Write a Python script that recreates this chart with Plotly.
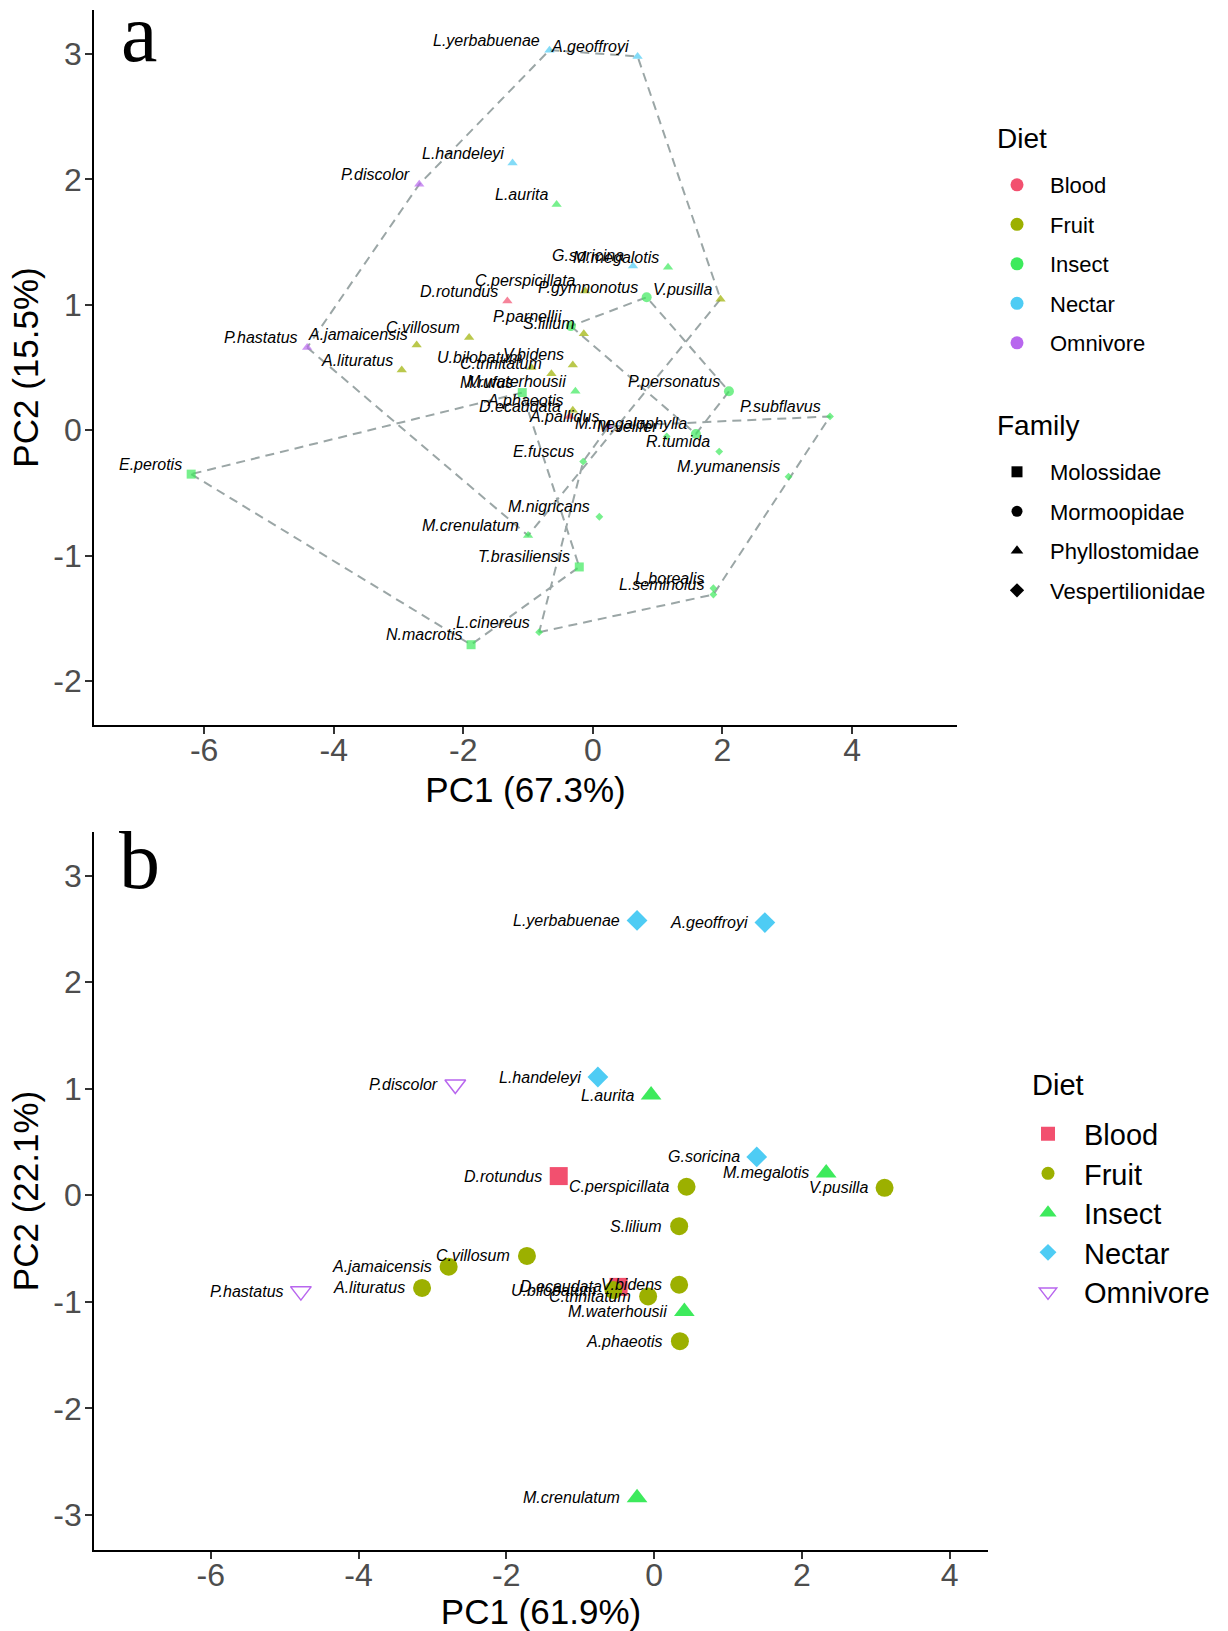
import plotly.graph_objects as go

# ---------------- Panel a data ----------------
a_species = ["L.yerbabuenae", "A.geoffroyi", "L.handeleyi", "P.discolor", "L.aurita",
             "G.soricina", "M.megalotis", "D.rotundus", "C.perspicillata", "P.gymnonotus",
             "V.pusilla", "P.parnellii", "S.lilium", "C.villosum", "A.jamaicensis",
             "A.lituratus", "P.hastatus", "U.bilobatum", "C.trinitatum", "V.bidens",
             "M.rufus", "M.waterhousii", "A.phaeotis", "D.ecaudata", "A.pallidus",
             "M.megalophylla", "M.velifer", "P.personatus", "P.subflavus", "R.tumida",
             "E.fuscus", "M.yumanensis", "E.perotis", "M.nigricans", "M.crenulatum",
             "T.brasiliensis", "L.borealis", "L.seminolus", "L.cinereus", "N.macrotis"]
a_family = ["Phyllostomidae", "Phyllostomidae", "Phyllostomidae", "Phyllostomidae", "Phyllostomidae",
            "Phyllostomidae", "Phyllostomidae", "Phyllostomidae", "Phyllostomidae", "Mormoopidae",
            "Phyllostomidae", "Mormoopidae", "Phyllostomidae", "Phyllostomidae", "Phyllostomidae",
            "Phyllostomidae", "Phyllostomidae", "Phyllostomidae", "Phyllostomidae", "Phyllostomidae",
            "Molossidae", "Phyllostomidae", "Phyllostomidae", "Phyllostomidae", "Vespertilionidae",
            "Mormoopidae", "Vespertilionidae", "Mormoopidae", "Vespertilionidae", "Vespertilionidae",
            "Vespertilionidae", "Vespertilionidae", "Molossidae", "Vespertilionidae", "Phyllostomidae",
            "Molossidae", "Vespertilionidae", "Vespertilionidae", "Vespertilionidae", "Molossidae"]
a_diet = ["Nectar", "Nectar", "Nectar", "Omnivore", "Insect",
          "Nectar", "Insect", "Blood", "Fruit", "Insect",
          "Fruit", "Insect", "Fruit", "Fruit", "Fruit",
          "Fruit", "Omnivore", "Fruit", "Fruit", "Fruit",
          "Insect", "Insect", "Fruit", "Blood", "Omnivore",
          "Insect", "Insect", "Insect", "Insect", "Insect",
          "Insect", "Insect", "Insect", "Insect", "Insect",
          "Insect", "Insect", "Insect", "Insect", "Insect"]
a_pc1 = [-0.67, 0.69, -1.24, -2.68, -0.56,
         0.62, 1.16, -1.32, -0.12, 0.83,
         1.97, -0.34, -0.14, -1.91, -2.72,
         -2.95, -4.41, -0.95, -0.64, -0.31,
         -1.09, -0.27, -0.31, -0.36, 0.24,
         1.59, 1.14, 2.10, 3.66, 1.95,
         -0.15, 3.02, -6.20, 0.10, -1.00,
         -0.21, 1.86, 1.86, -0.83, -1.88]
a_pc2 = [3.03, 2.98, 2.13, 1.96, 1.80,
         1.31, 1.30, 1.03, 1.11, 1.06,
         1.045, 0.83, 0.77, 0.74, 0.68,
         0.48, 0.66, 0.50, 0.45, 0.52,
         0.30, 0.31, 0.16, 0.11, 0.03,
         -0.03, -0.05, 0.31, 0.11, -0.17,
         -0.25, -0.37, -0.35, -0.69, -0.84,
         -1.09, -1.26, -1.31, -1.61, -1.71]

# ---------------- Panel b data ----------------
b_species = ["L.yerbabuenae", "A.geoffroyi", "P.discolor", "L.handeleyi", "L.aurita",
             "G.soricina", "M.megalotis", "V.pusilla", "D.rotundus", "C.perspicillata",
             "S.lilium", "C.villosum", "A.jamaicensis", "A.lituratus", "P.hastatus",
             "D.ecaudata", "U.bilobatum", "V.bidens", "C.trinitatum", "M.waterhousii",
             "A.phaeotis", "M.crenulatum"]
b_diet = ["Nectar", "Nectar", "Omnivore", "Nectar", "Insect",
          "Nectar", "Insect", "Fruit", "Blood", "Fruit",
          "Fruit", "Fruit", "Fruit", "Fruit", "Omnivore",
          "Blood", "Fruit", "Fruit", "Fruit", "Insect",
          "Fruit", "Insect"]
b_pc1 = [-0.23, 1.50, -2.69, -0.76, -0.04,
         1.39, 2.33, 3.12, -1.29, 0.44,
         0.34, -1.72, -2.78, -3.14, -4.78,
         -0.48, -0.55, 0.34, -0.08, 0.41,
         0.35, -0.23]
b_pc2 = [2.58, 2.56, 1.04, 1.11, 0.94,
         0.36, 0.21, 0.07, 0.18, 0.08,
         -0.29, -0.57, -0.67, -0.87, -0.90,
         -0.86, -0.89, -0.84, -0.95, -1.09,
         -1.37, -2.84]

# ---------------- categories / ticks ----------------
diet_levels = ["Blood", "Fruit", "Insect", "Nectar", "Omnivore"]
family_levels = ["Molossidae", "Mormoopidae", "Phyllostomidae", "Vespertilionidae"]
a_xticks = [-6, -4, -2, 0, 2, 4]
a_xticktext = ["-6", "-4", "-2", "0", "2", "4"]
a_yticks = [-2, -1, 0, 1, 2, 3]
a_yticktext = ["-2", "-1", "0", "1", "2", "3"]
b_xticks = [-6, -4, -2, 0, 2, 4]
b_xticktext = ["-6", "-4", "-2", "0", "2", "4"]
b_yticks = [-3, -2, -1, 0, 1, 2, 3]
b_yticktext = ["-3", "-2", "-1", "0", "1", "2", "3"]

# ---------------- styles ----------------
W, H = 1228, 1631
diet_colors = {"Blood": "#F2506F", "Fruit": "#9CB000", "Insect": "#3DEA5C",
               "Nectar": "#4ECCF4", "Omnivore": "#B866EE"}
fam_symbol = {"Molossidae": "square", "Mormoopidae": "circle",
              "Phyllostomidae": "triangle-up", "Vespertilionidae": "diamond"}
fam_size = {"Molossidae": 9, "Mormoopidae": 10, "Phyllostomidae": 9, "Vespertilionidae": 6}
b_symbol = {"Blood": "square", "Fruit": "circle", "Insect": "triangle-up",
            "Nectar": "diamond", "Omnivore": "triangle-down-open"}
b_size = {"Blood": 18, "Fruit": 18, "Insect": 18, "Nectar": 16, "Omnivore": 18}
b_leg_size = {"Blood": 14, "Fruit": 13, "Insect": 15, "Nectar": 13, "Omnivore": 15}
HULL = "#9BA6A6"
FONT = "Liberation Sans"
TICKCOL = "#4D4D4D"


def convex_hull(points):
    pts = sorted(set(points))
    if len(pts) <= 2:
        return pts

    def cross(o, a, b):
        return (a[0] - o[0]) * (b[1] - o[1]) - (a[1] - o[1]) * (b[0] - o[0])
    lower, upper = [], []
    for p in pts:
        while len(lower) >= 2 and cross(lower[-2], lower[-1], p) <= 0:
            lower.pop()
        lower.append(p)
    for p in reversed(pts):
        while len(upper) >= 2 and cross(upper[-2], upper[-1], p) <= 0:
            upper.pop()
        upper.append(p)
    return lower[:-1] + upper[:-1]


fig = go.Figure()

# hulls (panel a)
for fam in family_levels:
    pts = [(x, y) for x, y, f in zip(a_pc1, a_pc2, a_family) if f == fam]
    hull = convex_hull(pts)
    hull = hull + [hull[0]]
    fig.add_trace(go.Scatter(x=[p[0] for p in hull], y=[p[1] for p in hull], mode="lines",
                             line=dict(color=HULL, width=2, dash="9px,6px"),
                             xaxis="x", yaxis="y", showlegend=False, hoverinfo="skip"))

# points (panel a)
for diet in diet_levels:
    idx = [i for i, d in enumerate(a_diet) if d == diet]
    fig.add_trace(go.Scatter(
        x=[a_pc1[i] for i in idx], y=[a_pc2[i] for i in idx], mode="markers",
        marker=dict(color=diet_colors[diet],
                    symbol=[fam_symbol[a_family[i]] for i in idx],
                    size=[fam_size[a_family[i]] for i in idx],
                    line=dict(width=0)),
        text=[a_species[i] for i in idx], hoverinfo="text",
        xaxis="x", yaxis="y", showlegend=False))

# points (panel b)
for diet in diet_levels:
    idx = [i for i, d in enumerate(b_diet) if d == diet]
    mk = dict(color=diet_colors[diet], symbol=b_symbol[diet], size=b_size[diet])
    mk["line"] = dict(width=1.5, color=diet_colors[diet]) if diet == "Omnivore" else dict(width=0)
    fig.add_trace(go.Scatter(
        x=[b_pc1[i] for i in idx], y=[b_pc2[i] for i in idx], mode="markers",
        marker=mk, text=[b_species[i] for i in idx], hoverinfo="text",
        xaxis="x2", yaxis="y2", showlegend=False))

# legend entries: one small legend per key so the spacing follows the reference
legends = {}
leg_no = [0]


def new_legend(x_px, y_px, size, itemwidth):
    leg_no[0] += 1
    key = "legend" if leg_no[0] == 1 else "legend%d" % leg_no[0]
    legends[key] = dict(x=x_px / W, y=1 - y_px / H, xanchor="left", yanchor="middle",
                        bgcolor="rgba(0,0,0,0)", borderwidth=0, itemwidth=itemwidth,
                        tracegroupgap=0, font=dict(family=FONT, size=size, color="black"))
    return key


for k, diet in enumerate(diet_levels):
    key = new_legend(984, 185 + 39.5 * k, 22, 56)
    fig.add_trace(go.Scatter(x=[None], y=[None], mode="markers", name=diet,
                             marker=dict(color=diet_colors[diet], symbol="circle", size=13),
                             xaxis="x", yaxis="y", legend=key))
for k, fam in enumerate(family_levels):
    key = new_legend(984, 472 + 39.5 * k, 22, 56)
    fig.add_trace(go.Scatter(x=[None], y=[None], mode="markers", name=fam,
                             marker=dict(color="black", symbol=fam_symbol[fam], size=11),
                             xaxis="x", yaxis="y", legend=key))
for k, diet in enumerate(diet_levels):
    key = new_legend(1012, 1134 + 39.5 * k, 29, 62)
    mk = dict(color=diet_colors[diet], symbol=b_symbol[diet], size=b_leg_size[diet])
    if diet == "Omnivore":
        mk["line"] = dict(width=1.5, color=diet_colors[diet])
    fig.add_trace(go.Scatter(x=[None], y=[None], mode="markers", name=diet, marker=mk,
                             xaxis="x2", yaxis="y2", legend=key))

# labels
annotations = []
for n, x, y in zip(a_species, a_pc1, a_pc2):
    annotations.append(dict(x=x, y=y, xref="x", yref="y", text=n, showarrow=False,
                            xanchor="right", yanchor="middle", xshift=-7, yshift=10,
                            font=dict(family=FONT, size=16, color="black", style="italic")))
for n, x, y in zip(b_species, b_pc1, b_pc2):
    annotations.append(dict(x=x, y=y, xref="x2", yref="y2", text=n, showarrow=False,
                            xanchor="right", yanchor="middle", xshift=-15, yshift=0,
                            font=dict(family=FONT, size=16, color="black", style="italic")))
# legend titles
for txt, xp, yp, fs in [("Diet", 995, 139, 28), ("Family", 995, 426, 28), ("Diet", 1030, 1085, 29)]:
    annotations.append(dict(x=xp / W, y=1 - yp / H, xref="paper", yref="paper", text=txt,
                            showarrow=False, xanchor="left", yanchor="middle",
                            font=dict(family=FONT, size=fs, color="black")))
# panel letters
annotations.append(dict(x=139 / W, y=1 - 33 / H, xref="paper", yref="paper", text="a",
                        showarrow=False, xanchor="center", yanchor="middle",
                        font=dict(family="Liberation Serif", size=82, color="black")))
annotations.append(dict(x=139 / W, y=1 - 860 / H, xref="paper", yref="paper", text="b",
                        showarrow=False, xanchor="center", yanchor="middle",
                        font=dict(family="Liberation Serif", size=82, color="black")))

axis_common = dict(showline=True, linecolor="black", linewidth=1.6, ticks="outside",
                   ticklen=7, tickwidth=1.5, tickcolor="#333333", showgrid=False,
                   zeroline=False, tickfont=dict(family=FONT, size=32, color=TICKCOL))
title_font = dict(family=FONT, size=35, color="black")

fig.update_layout(
    width=W, height=H, margin=dict(l=0, r=0, t=0, b=0),
    paper_bgcolor="white", plot_bgcolor="white",
    font=dict(family=FONT, color="black"),
    annotations=annotations,
    xaxis=dict(domain=[94 / W, 957 / W], range=[-7.70, 5.62], anchor="y",
               tickvals=a_xticks, ticktext=a_xticktext, ticklabelstandoff=-11,
               title=dict(text="PC1 (67.3%)", font=title_font, standoff=10),
               **axis_common),
    yaxis=dict(domain=[1 - 725 / H, 1 - 10 / H], range=[-2.35, 3.35], anchor="x",
               tickvals=a_yticks, ticktext=a_yticktext, ticklabelstandoff=-3,
               title=dict(text="PC2 (15.5%)", font=title_font, standoff=4),
               **axis_common),
    xaxis2=dict(domain=[94 / W, 988 / W], range=[-7.58, 4.52], anchor="y2",
                tickvals=b_xticks, ticktext=b_xticktext, ticklabelstandoff=-11,
                title=dict(text="PC1 (61.9%)", font=title_font, standoff=3),
                **axis_common),
    yaxis2=dict(domain=[1 - 1550 / H, 1 - 832 / H], range=[-3.33, 3.41], anchor="x2",
                tickvals=b_yticks, ticktext=b_yticktext, ticklabelstandoff=-3,
                title=dict(text="PC2 (22.1%)", font=title_font, standoff=4),
                **axis_common),
    **legends,
)

fig.write_html("out.html", config={"displayModeBar": False},
               post_script="document.body.style.margin='0px';")
